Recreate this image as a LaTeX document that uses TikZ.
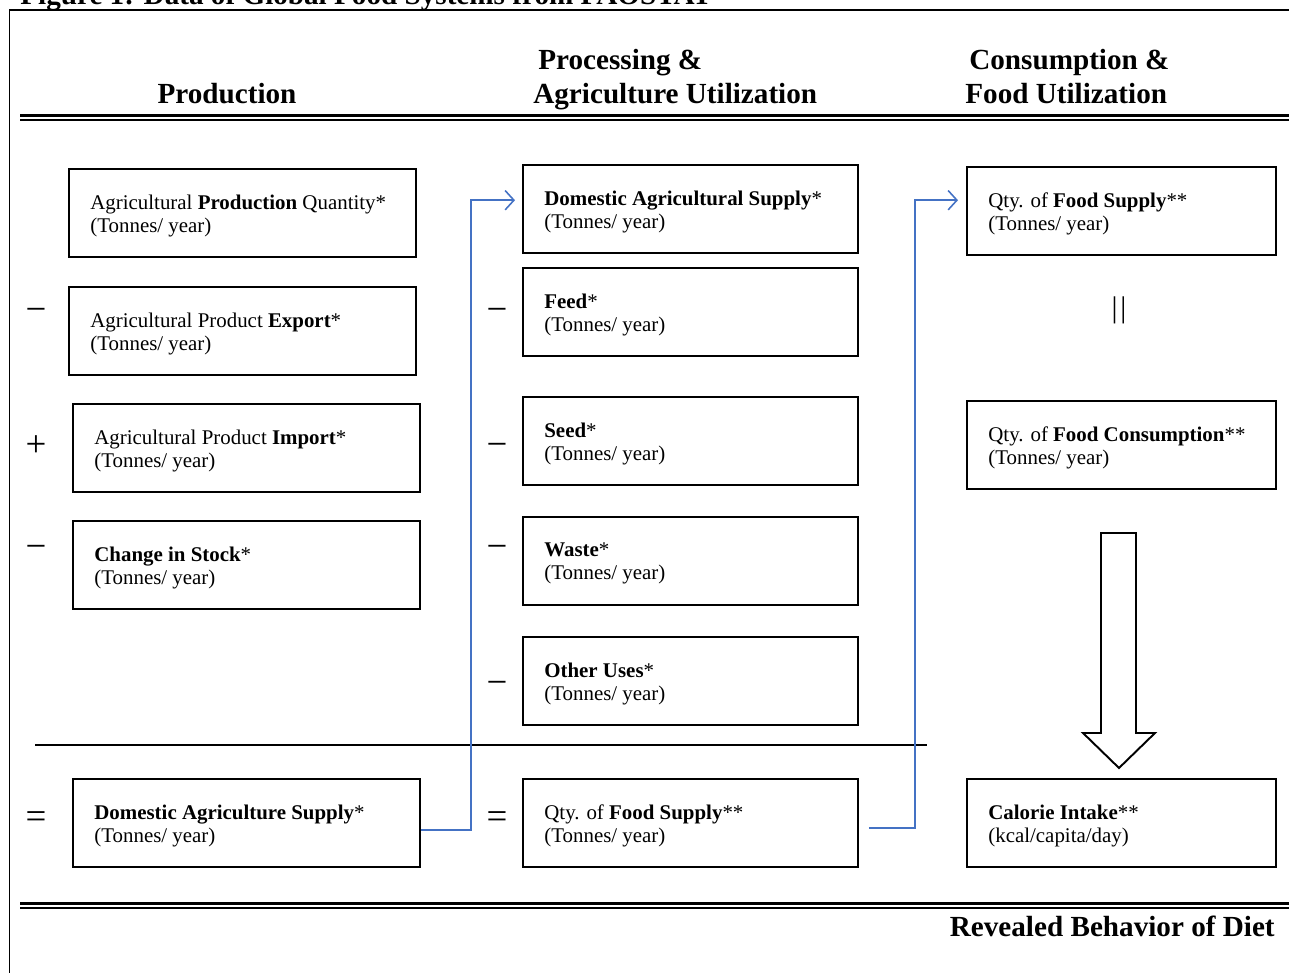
\documentclass[tikz,border=0pt]{standalone}
\usepackage{fontspec}
\setmainfont{Liberation Serif}
\usetikzlibrary{arrows.meta,positioning,calc}

\definecolor{flowblue}{RGB}{68,114,196}

\tikzset{
    databox/.style={draw, line width=1.1pt, anchor=north west, minimum height=1.77cm, inner sep=0pt},
    boxtext/.style={anchor=west, align=left, inner sep=0pt, font=\fontsize{11.9}{13}\selectfont},
    head/.style={anchor=base west, inner sep=0pt, font=\fontsize{16.6}{19}\selectfont\bfseries},
    sign/.style={inner sep=0pt, font=\fontsize{21}{24}\selectfont},
    flow/.style={draw=flowblue, line width=0.9pt, -{Straight Barb[length=5pt,width=11pt,line width=0.9pt]}},
    rule/.style={line width=1.1pt},
}

% box with text set in from its left side
\newcommand{\databox}[4]{%
    \node[databox, minimum width=#3] (#1) at (#2) {};
    \node[boxtext] (#1-text) at ([xshift=0.44cm,yshift=-0.05cm]#1.west) {#4};
}

\begin{document}
\begin{tikzpicture}[x=0.02cm, y=-0.02cm]
    \useasboundingbox (0,0) rectangle (1289,973);
    \clip (0,0) rectangle (1289,973);

    % Title (cut at the top of the page)
    \node[head] (title) at (20,5) {Figure 1: Data of Global Food Systems from FAOSTAT};

    % Frame
    \draw[rule] (9.5,990) |- (1300,10);

    % Column heads
    \node[head, anchor=base] (hprod) at (227,104) {Production};
    \node[head] (hproc1) at (538,70) {Processing \&};
    \node[head] (hproc2) at (533,104) {Agriculture Utilization};
    \node[head] (hcons1) at (969,70) {Consumption \&};
    \node[head] (hcons2) at (965,104) {Food Utilization};
    \node[head, anchor=base east] (diet) at (1275,936) {Revealed Behavior of Diet};

    % Double rules
    \draw[line width=1.2pt] (20,115.5) -- (1300,115.5);
    \draw[line width=0.9pt] (20,120) -- (1300,120);
    \draw[line width=1.2pt] (20,903.5) -- (1300,903.5);
    \draw[line width=0.9pt] (20,908) -- (1300,908);
    \draw[line width=0.8pt] (35,745) -- (927,745);

    % Production
    \databox{prodqty}{68,168}{6.94cm}{Agricultural \textbf{Production} Quantity*\\(Tonnes/ year)}
    \databox{export}{68,286}{6.94cm}{Agricultural Product \textbf{Export}*\\(Tonnes/ year)}
    \databox{import}{72,403}{6.94cm}{Agricultural Product \textbf{Import}*\\(Tonnes/ year)}
    \databox{stock}{72,520}{6.94cm}{\textbf{Change in Stock}*\\(Tonnes/ year)}
    \databox{prodsum}{72,778}{6.94cm}{\textbf{Domestic Agriculture Supply}*\\(Tonnes/ year)}

    % Processing
    \databox{dsupply}{522,164}{6.7cm}{\textbf{Domestic Agricultural Supply}*\\(Tonnes/ year)}
    \databox{feed}{522,267}{6.7cm}{\textbf{Feed}*\\(Tonnes/ year)}
    \databox{seed}{522,396}{6.7cm}{\textbf{Seed}*\\(Tonnes/ year)}
    \databox{waste}{522,516}{6.7cm}{\textbf{Waste}*\\(Tonnes/ year)}
    \databox{other}{522,636}{6.7cm}{\textbf{Other Uses}*\\(Tonnes/ year)}
    \databox{fsupply}{522,778}{6.7cm}{Qty. of \textbf{Food Supply}**\\(Tonnes/ year)}

    % Consumption
    \databox{qsupply}{966,166}{6.18cm}{Qty. of \textbf{Food Supply}**\\(Tonnes/ year)}
    \databox{qcons}{966,400}{6.18cm}{Qty. of \textbf{Food Consumption}**\\(Tonnes/ year)}
    \databox{calorie}{966,778}{6.18cm}{\textbf{Calorie Intake}**\\(kcal/capita/day)}

    % Signs
    \foreach \y/\s [count=\i] in {315/−, 446/+, 552/−, 820/=}
        \node[sign] (sgna-\i) at (36,\y) {\s};
    \foreach \y/\s [count=\i] in {315/−, 450/−, 552/−, 688/−, 820/=}
        \node[sign] (sgnb-\i) at (497,\y) {\s};
    \node[sign, font=\fontsize{17}{19}\selectfont] (equal) at (1119,310) {|\kern1.5pt|};

    % Flows
    \draw[flow] ([yshift=-0.14cm]prodsum.east) -- ++(50,0) |- ([xshift=-0.14cm,yshift=0.18cm]dsupply.west);
    \draw[flow] ([xshift=0.2cm,yshift=-0.1cm]fsupply.east) -- ++(46,0) |- ([xshift=-0.16cm,yshift=0.22cm]qsupply.west);

    % Big arrow
    \draw[line width=1.1pt, line join=miter] (1101,533) -- (1136,533) -- (1136,733) -- (1155,733)
        -- (1119,768) -- (1083,733) -- (1101,733) -- cycle;
\end{tikzpicture}
\end{document}
